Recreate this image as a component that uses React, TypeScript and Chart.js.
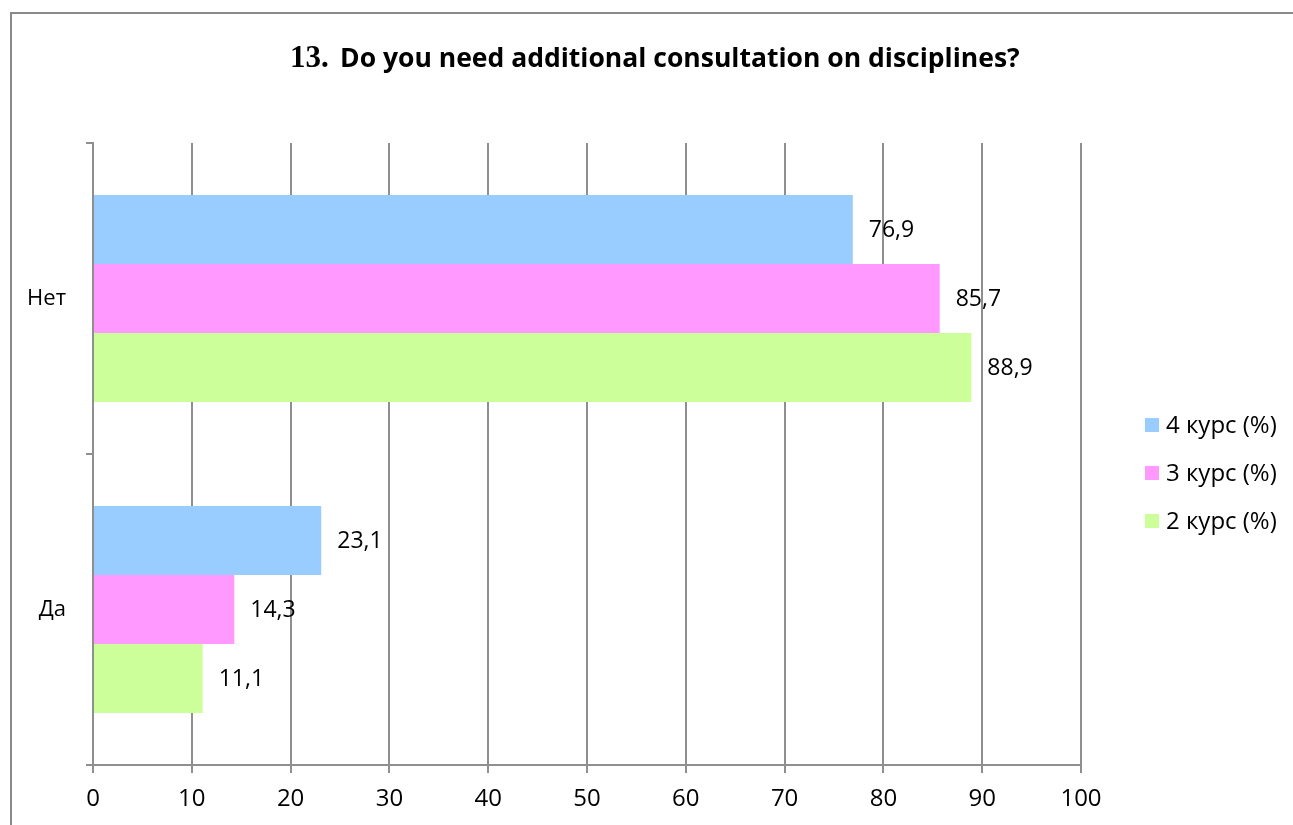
import React, { useEffect, useRef } from 'react';
import { Chart, registerables } from 'chart.js';

Chart.register(...registerables);

const categories = ['Нет', 'Да'];
const course4 = [76.9, 23.1];
const course3 = [85.7, 14.3];
const course2 = [88.9, 11.1];
const seriesNames = ['4 курс (%)', '3 курс (%)', '2 курс (%)'];
const seriesColors = ['#99CCFF', '#FF99FF', '#CCFF99'];
const titleNumber = '13.';
const titleText = 'Do you need additional consultation on disciplines?';
const xMin = 0;
const xMax = 100;
const xStep = 10;

const SANS = '"Open Sans", "Noto Sans", sans-serif';
const GRID = '#8f8f8f';

const framePlugin = {
  id: 'frame',
  beforeDraw(chart: any) {
    const ctx = chart.ctx;
    ctx.save();
    ctx.fillStyle = '#ffffff';
    ctx.fillRect(0, 0, chart.width, chart.height);
    ctx.strokeStyle = '#8a8a8a';
    ctx.lineWidth = 2;
    ctx.beginPath();
    ctx.moveTo(11, chart.height + 5);
    ctx.lineTo(11, 13);
    ctx.lineTo(chart.width + 5, 13);
    ctx.stroke();
    ctx.restore();
  },
};

const titlePlugin = {
  id: 'customTitle',
  afterDraw(chart: any) {
    const ctx = chart.ctx;
    ctx.save();
    ctx.fillStyle = '#000000';
    ctx.textBaseline = 'alphabetic';
    ctx.textAlign = 'left';
    ctx.font = 'bold 31px "Liberation Serif", serif';
    ctx.fillText(titleNumber, 290, 67);
    let size = 24;
    ctx.font = `bold ${size}px ${SANS}`;
    const w = ctx.measureText(titleText).width;
    size = size * 680 / w;
    ctx.font = `bold ${size}px ${SANS}`;
    ctx.fillText(titleText, 340, 67);
    ctx.restore();
  },
};

const valueLabelPlugin = {
  id: 'valueLabels',
  afterDatasetsDraw(chart: any) {
    const ctx = chart.ctx;
    ctx.save();
    ctx.fillStyle = '#000000';
    ctx.font = `23px ${SANS}`;
    ctx.textBaseline = 'middle';
    ctx.textAlign = 'left';
    chart.data.datasets.forEach((ds: any, di: number) => {
      const meta = chart.getDatasetMeta(di);
      meta.data.forEach((bar: any, i: number) => {
        const v = ds.data[i];
        ctx.fillText(String(v).replace('.', ','), bar.x + 16, bar.y + 1);
      });
    });
    ctx.restore();
  },
};

const legendPlugin = {
  id: 'customLegend',
  afterDraw(chart: any) {
    const ctx = chart.ctx;
    ctx.save();
    ctx.font = `24px ${SANS}`;
    ctx.textBaseline = 'middle';
    ctx.textAlign = 'left';
    seriesNames.forEach((name, i) => {
      const y = 425 + i * 48;
      ctx.fillStyle = seriesColors[i];
      ctx.fillRect(1145, y - 7, 14, 14);
      ctx.fillStyle = '#000000';
      ctx.fillText(name, 1166, y + 1);
    });
    ctx.restore();
  },
};

export default function App() {
  const ref = useRef<HTMLCanvasElement | null>(null);
  useEffect(() => {
    if (!ref.current) return;
    const chart = new Chart(ref.current, {
      type: 'bar',
      data: {
        labels: categories,
        datasets: [
          { label: seriesNames[0], data: course4, backgroundColor: seriesColors[0], borderWidth: 0 },
          { label: seriesNames[1], data: course3, backgroundColor: seriesColors[1], borderWidth: 0 },
          { label: seriesNames[2], data: course2, backgroundColor: seriesColors[2], borderWidth: 0 },
        ],
      },
      options: {
        indexAxis: 'y',
        responsive: false,
        animation: false,
        devicePixelRatio: 1,
        layout: { padding: { top: 143, right: 212, left: 0, bottom: 0 } },
        datasets: { bar: { categoryPercentage: 0.666, barPercentage: 1 } },
        plugins: {
          legend: { display: false },
          title: { display: false },
          tooltip: { enabled: false },
        },
        scales: {
          x: {
            min: xMin,
            max: xMax,
            ticks: {
              stepSize: xStep,
              color: '#000000',
              font: { family: SANS, size: 24 },
              padding: 12,
              maxRotation: 0,
            },
            grid: { color: GRID, lineWidth: 2, tickLength: 8, drawTicks: true },
            border: { color: GRID, width: 2 },
            afterFit(scale: any) {
              scale.height = 60;
            },
          },
          y: {
            ticks: {
              color: '#000000',
              font: { family: SANS, size: 22 },
              padding: 20,
            },
            grid: { color: GRID, lineWidth: 2, tickLength: 7, drawOnChartArea: false, offset: true },
            border: { color: GRID, width: 2 },
            afterFit(scale: any) {
              scale.width = 93;
            },
          },
        },
      },
      plugins: [framePlugin, valueLabelPlugin, legendPlugin, titlePlugin],
    } as any);
    return () => chart.destroy();
  }, []);
  return (
    <div style={{ position: 'absolute', left: 0, top: 0, width: 1293, height: 825, background: '#fff' }}>
      <canvas ref={ref} width={1293} height={825} style={{ display: 'block' }} />
    </div>
  );
}
